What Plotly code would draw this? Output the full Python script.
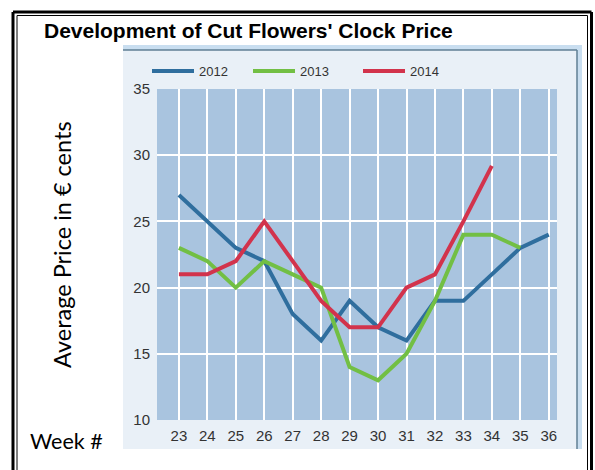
import plotly.graph_objects as go

weeks = list(range(23, 37))
y2012 = [27, 25, 23, 22, 18, 16, 19, 17, 16, 19, 19, 21, 23, 24]
weeks2013 = list(range(23, 36))
y2013 = [23, 22, 20, 22, 21, 20, 14, 13, 15, 19, 24, 24, 23]
weeks2014 = list(range(23, 35))
y2014 = [21, 21, 22, 25, 22, 19, 17, 17, 20, 21, 25, 29.2]
series_names = ["2012", "2013", "2014"]
colors = ["#2f6e9e", "#72bf44", "#d2334c"]
ytick_vals = [10, 15, 20, 25, 30, 35]

W, H = 595, 470
# plot area in page pixels
L, R, T, B = 157, 557, 89, 420
PW, PH = R - L, B - T


def px(x):
    return (x - L) / PW


def py(y):
    return (B - y) / PH


fig = go.Figure()
for xs, ys, name, c in zip([weeks, weeks2013, weeks2014], [y2012, y2013, y2014], series_names, colors):
    fig.add_trace(go.Scatter(x=xs, y=ys, mode="lines", name=name,
                             line=dict(color=c, width=4), showlegend=False))

shapes = []
# panel background
shapes.append(dict(type="rect", xref="paper", yref="paper", x0=px(123), x1=px(582), y0=py(449), y1=py(45),
                   fillcolor="#e9f0f7", line=dict(width=0), layer="below"))
shapes.append(dict(type="rect", xref="paper", yref="paper", x0=px(123), x1=px(582), y0=py(50), y1=py(45),
                   fillcolor="#c9def0", line=dict(width=0), layer="below"))
shapes.append(dict(type="rect", xref="paper", yref="paper", x0=px(577), x1=px(582), y0=py(449), y1=py(45),
                   fillcolor="#c9def0", line=dict(width=0), layer="below"))
shapes.append(dict(type="line", xref="paper", yref="paper", x0=px(123), x1=px(577), y0=py(50), y1=py(50),
                   line=dict(color="#5f7f95", width=1.5), layer="below"))
shapes.append(dict(type="line", xref="paper", yref="paper", x0=px(577), x1=px(577), y0=py(50), y1=py(449),
                   line=dict(color="#5f7f95", width=1.5), layer="below"))
# plot area background
shapes.append(dict(type="rect", xref="paper", yref="paper", x0=0, x1=1, y0=0, y1=1,
                   fillcolor="#a9c4df", line=dict(width=0), layer="below"))
# outer double frame: (left, top, right, width)
for lft, top, rgt, w in [(13, 12, 591.5, 3), (17, 15.5, 587.5, 1)]:
    shapes.append(dict(type="line", xref="paper", yref="paper", x0=px(lft), x1=px(lft), y0=py(H + 5), y1=py(top),
                       line=dict(color="black", width=w)))
    shapes.append(dict(type="line", xref="paper", yref="paper", x0=px(lft), x1=px(rgt), y0=py(top), y1=py(top),
                       line=dict(color="black", width=w)))
    shapes.append(dict(type="line", xref="paper", yref="paper", x0=px(rgt), x1=px(rgt), y0=py(top), y1=py(H + 5),
                       line=dict(color="black", width=w)))

annotations = []
# legend drawn manually
leg_x = [152, 253, 363]
for lx, name, c in zip(leg_x, series_names, colors):
    shapes.append(dict(type="line", xref="paper", yref="paper", x0=px(lx), x1=px(lx + 42), y0=py(71), y1=py(71),
                       line=dict(color=c, width=4)))
    annotations.append(dict(text=name, xref="paper", yref="paper", x=px(lx + 45), y=py(71), xanchor="left",
                            yanchor="middle", showarrow=False,
                            font=dict(family="Liberation Sans, Arial", size=13, color="#333")))

annotations.append(dict(text="<b>Development of Cut Flowers' Clock Price</b>", xref="paper", yref="paper",
                        x=px(248), y=py(30), xanchor="center", yanchor="middle", showarrow=False,
                        font=dict(family="Liberation Sans, Arial", size=21, color="black")))
annotations.append(dict(text="Average Price in € cents", xref="paper", yref="paper", x=px(62), y=py(245),
                        xanchor="center", yanchor="middle", textangle=-90, showarrow=False,
                        font=dict(family="Lato, Open Sans", size=23.5, color="black")))
annotations.append(dict(text="Week #", xref="paper", yref="paper", x=px(28), y=py(441),
                        xanchor="left", yanchor="middle", showarrow=False,
                        font=dict(family="Lato, Open Sans", size=21.5, color="black")))

fig.update_layout(
    width=W, height=H,
    margin=dict(l=L, r=W - R, t=T, b=H - B),
    paper_bgcolor="white", plot_bgcolor="#a9c4df",
    shapes=shapes, annotations=annotations, showlegend=False,
    xaxis=dict(range=[22.23, 36.29], tickvals=weeks, showgrid=True, gridcolor="white", gridwidth=2,
               zeroline=False, showline=False, ticks="", ticklabelstandoff=5,
               tickfont=dict(family="Liberation Sans, Arial", size=15, color="#333")),
    yaxis=dict(range=[10, 35], tickvals=ytick_vals, showgrid=True, gridcolor="white", gridwidth=2,
               zeroline=False, showline=False, ticks="", ticklabelstandoff=6,
               tickfont=dict(family="Liberation Sans, Arial", size=15, color="#333")),
)

fig.write_html("out.html", config={"displayModeBar": False},
               post_script="document.body.style.margin='0';document.body.style.overflow='hidden';")
